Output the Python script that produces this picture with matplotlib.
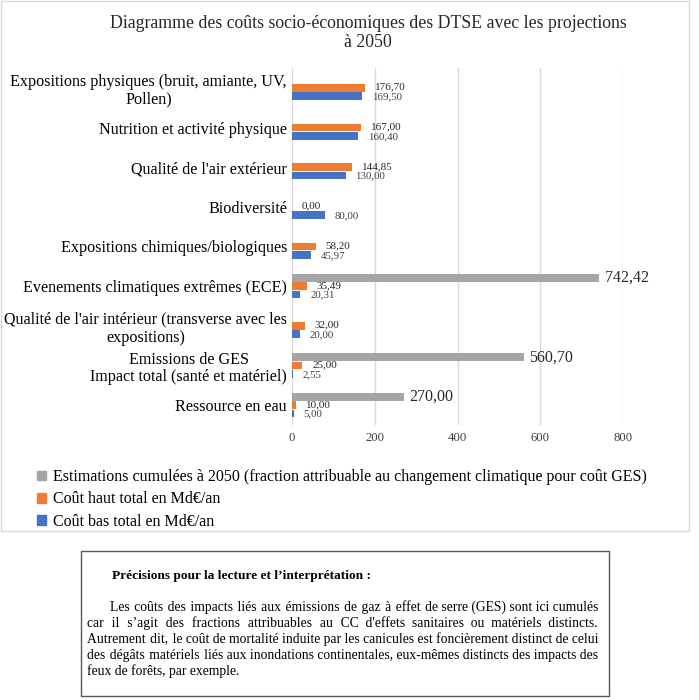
import matplotlib
matplotlib.use("Agg")
import matplotlib.pyplot as plt
from matplotlib.patches import Rectangle, Patch
import numpy as np

plt.rcParams['font.family'] = ['Liberation Serif', 'DejaVu Serif']

# données (Md€/an), de haut en bas comme sur le graphique
categories = ["Expositions physiques (bruit, amiante, UV,\nPollen)",
              "Nutrition et activité physique",
              "Qualité de l'air extérieur",
              "Biodiversité",
              "Expositions chimiques/biologiques",
              "Evenements climatiques extrêmes (ECE)",
              "Qualité de l'air intérieur (transverse avec les\nexpositions)",
              "Emissions de GES\nImpact total (santé et matériel)",
              "Ressource en eau"]
cumul_2050 = [np.nan, np.nan, np.nan, np.nan, np.nan, 742.42, np.nan, 560.70, 270.00]
cout_haut = [176.70, 167.00, 144.85, 0.00, 58.20, 35.49, 32.00, 25.00, 10.00]
cout_bas = [169.50, 160.40, 130.00, 80.00, 45.97, 20.31, 20.00, 2.55, 5.00]
xticks = [0, 200, 400, 600, 800]

noms = ["Estimations cumulées à 2050 (fraction attribuable au changement climatique pour coût GES)",
        "Coût haut total en Md€/an",
        "Coût bas total en Md€/an"]
couleurs = ["#A5A5A5", "#ED7D31", "#4472C4"]

W, H = 699, 700
fig = plt.figure(figsize=(W / 100, H / 100), dpi=100)
ax = fig.add_axes([292 / W, 1 - 425 / H, (623 - 292) / W, (425 - 68) / H])

n = len(categories)
y = np.arange(n)[::-1]
dy = 0.21
h = 0.2

ax.barh(y + dy, cumul_2050, height=h, color=couleurs[0])
ax.barh(y, cout_haut, height=h, color=couleurs[1])
ax.barh(y - dy, cout_bas, height=h, color=couleurs[2])


def fmt(v):
    return f"{v:.2f}".replace(".", ",")


for yi, v in zip(y, cumul_2050):
    if not np.isnan(v):
        ax.annotate(fmt(v), (v, yi + dy), xytext=(4, 0), textcoords="offset points",
                    ha="left", va="center", fontsize=11.5, color="#262626")
for yi, v in zip(y, cout_haut):
    ax.annotate(fmt(v), (v, yi), xytext=(7, 0.5), textcoords="offset points",
                ha="left", va="center", fontsize=8.0, color="#262626")
for yi, v in zip(y, cout_bas):
    ax.annotate(fmt(v), (v, yi - dy), xytext=(7, -0.5), textcoords="offset points",
                ha="left", va="center", fontsize=7.8, color="#404040")

ax.set_xlim(0, 800)
ax.set_ylim(-0.5, n - 0.5)
ax.set_xticks(xticks)
ax.set_xticklabels([str(t) for t in xticks], fontsize=9.2, color="#404040")
ax.set_yticks(y)
ax.set_yticklabels(categories, fontsize=11.6, color="black")
for t in ax.get_yticklabels():
    t.set_multialignment("center")
    t.set_linespacing(1.15)
ax.tick_params(axis="both", length=0)
ax.tick_params(axis="y", pad=3.6)
ax.tick_params(axis="x", pad=5)
ax.grid(axis="x", color="#D9D9D9", lw=1)
ax.set_axisbelow(True)
for s in ax.spines.values():
    s.set_visible(False)

fig.text(368 / W, 1 - 33 / H, "Diagramme des coûts socio-économiques des DTSE avec les projections\nà 2050",
         ha="center", va="center", multialignment="center", fontsize=12.8, color="#262626",
         linespacing=1.2)

handles = [Patch(color=c) for c in couleurs]
fig.legend(handles, noms, loc="upper left", bbox_to_anchor=(37 / W, 1 - 469 / H),
           frameon=False, fontsize=11.5, handlelength=0.55, handleheight=0.55,
           handletextpad=0.45, labelspacing=0.4, borderpad=0, borderaxespad=0)

# cadre du graphique
fig.patches.append(Rectangle((1 / W, 1 - 531 / H), 688 / W, 530 / H, transform=fig.transFigure,
                             fill=False, edgecolor="#D9D9D9", lw=1))
# encadré texte
fig.patches.append(Rectangle((81 / W, 1 - 696 / H), 528 / W, 145 / H, transform=fig.transFigure,
                             fill=False, edgecolor="#595959", lw=1))

fig.text(112 / W, 1 - 579 / H, "Précisions pour la lecture et l’interprétation :",
         ha="left", va="baseline", fontsize=9.6, fontweight="bold")

lignes = ["Les coûts des impacts liés aux émissions de gaz à effet de serre (GES) sont ici cumulés",
          "car il s’agit des fractions attribuables au CC d'effets sanitaires ou matériels distincts.",
          "Autrement dit, le coût de mortalité induite par les canicules est foncièrement distinct de celui",
          "des dégâts matériels liés aux inondations continentales, eux-mêmes distincts des impacts des",
          "feux de forêts, par exemple."]
debuts = [110, 87, 87, 87, 87]
ys = [611, 627, 643, 659, 675]
fs = 9.8
renderer = fig.canvas.get_renderer()


def largeur(s):
    t = fig.text(0, 0, s, fontsize=fs)
    w = t.get_window_extent(renderer).width
    t.remove()
    return w


# justification : on ajoute des espaces fines entre les mots
hair = (largeur("a" + "\u200a" * 40 + "a") - largeur("aa")) / 40
for i, (ligne, x0, yl) in enumerate(zip(lignes, debuts, ys)):
    mots = ligne.split(" ")
    texte = ligne
    if i < len(lignes) - 1:
        g = len(mots) - 1
        k = max(0, int(round((598 - x0 - largeur(ligne)) / hair)))
        texte = mots[0]
        for j, m in enumerate(mots[1:]):
            texte += " " + "\u200a" * (k // g + (1 if j < k % g else 0)) + m
    fig.text(x0 / W, 1 - yl / H, texte, ha="left", va="baseline", fontsize=fs)

fig.savefig("out.png", dpi=100)
